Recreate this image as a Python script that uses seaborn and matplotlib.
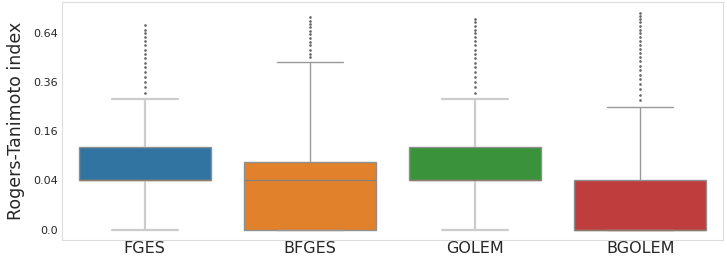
import numpy as np
import pandas as pd
import matplotlib
matplotlib.use("Agg")
import matplotlib.pyplot as plt
import seaborn as sns
from matplotlib.ticker import FixedLocator, FixedFormatter

methods = ["FGES", "BFGES", "GOLEM", "BGOLEM"]

# Rogers-Tanimoto index values and how often they occur
fges_values = [0.0, 0.04, 0.08, 0.114, 0.16, 0.22, 0.28,
               0.31, 0.335, 0.36, 0.385, 0.41, 0.435, 0.46, 0.485,
               0.51, 0.535, 0.56, 0.585, 0.61, 0.635, 0.66, 0.69]
fges_counts = [10, 55, 5, 20, 6, 3, 2] + [1] * 16

bfges_values = [0.0, 0.04, 0.076, 0.12, 0.2, 0.3, 0.4, 0.465,
                0.49, 0.51, 0.535, 0.56, 0.58, 0.605, 0.63, 0.65,
                0.675, 0.70, 0.72, 0.747]
bfges_counts = [35, 30, 30, 6, 5, 4, 2, 1] + [1] * 12

golem_values = [0.0, 0.04, 0.08, 0.114, 0.16, 0.22, 0.28,
                0.31, 0.335, 0.36, 0.385, 0.41, 0.435, 0.46, 0.485,
                0.51, 0.535, 0.56, 0.585, 0.61, 0.635, 0.66, 0.685,
                0.71, 0.733]
golem_counts = [10, 55, 5, 22, 6, 3, 2] + [1] * 18

bgolem_values = [0.0, 0.04, 0.08, 0.12, 0.16, 0.2, 0.248,
                 0.276, 0.30, 0.324, 0.348, 0.372, 0.396, 0.42, 0.444,
                 0.468, 0.492, 0.516, 0.54, 0.564, 0.588, 0.612, 0.636,
                 0.66, 0.684, 0.708, 0.732, 0.756, 0.775]
bgolem_counts = [75, 35, 3, 3, 2, 2, 1] + [1] * 22

tick_values = [0.0, 0.04, 0.16, 0.36, 0.64]
tick_labels = ["0.0", "0.04", "0.16", "0.36", "0.64"]

frames = []
for name, vals, cnts in [("FGES", fges_values, fges_counts),
                         ("BFGES", bfges_values, bfges_counts),
                         ("GOLEM", golem_values, golem_counts),
                         ("BGOLEM", bgolem_values, bgolem_counts)]:
    v = np.repeat(vals, cnts)
    frames.append(pd.DataFrame({"method": name, "score": np.sqrt(v)}))
df = pd.concat(frames, ignore_index=True)

tab = sns.color_palette("tab10", 4)
pal = dict(zip(methods, tab))

sns.set_style("whitegrid")
fig, ax = plt.subplots(figsize=(7.27, 2.58), dpi=100)
fig.subplots_adjust(left=0.0853, right=0.9945, top=0.992, bottom=0.068)

groups = [(["FGES", "GOLEM"], "#cccccc", 1.6),
          (["BFGES", "BGOLEM"], "#9a9a9a", 1.0)]
for names, lc, lw in groups:
    sub = df[df["method"].isin(names)]
    sns.boxplot(data=sub, x="method", y="score", hue="method", order=methods,
                hue_order=methods, palette=pal, fliersize=0.9, linewidth=lw,
                linecolor=lc, width=0.8, ax=ax, legend=False,
                boxprops=dict(edgecolor="#8f8f8f", linewidth=1.0),
                medianprops=dict(color="#8f7f70", linewidth=1.0),
                flierprops=dict(marker="o", markerfacecolor="#666666",
                                markeredgecolor="#666666"))

ax.grid(False)
ax.set_xlim(-0.5, 3.5)
ax.yaxis.set_major_locator(FixedLocator(np.sqrt(tick_values)))
ax.yaxis.set_major_formatter(FixedFormatter(tick_labels))
ax.tick_params(axis="y", labelsize=8, pad=3, length=0)
ax.tick_params(axis="x", labelsize=11.5, pad=0.5, length=0)
ax.set_xlabel("")
ax.set_ylabel("Rogers-Tanimoto index", fontsize=12.5, labelpad=6)
for s in ax.spines.values():
    s.set_color("#dddddd")

fig.savefig("out.png", dpi=100)
